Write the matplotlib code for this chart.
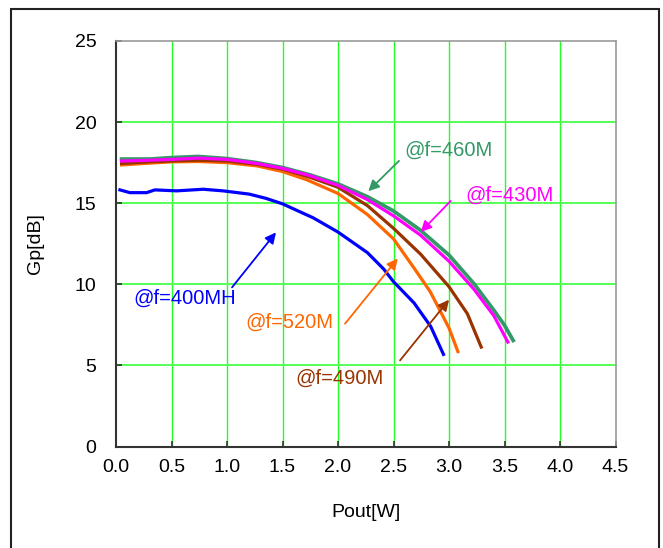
import matplotlib
matplotlib.use('Agg')
import matplotlib.pyplot as plt
from matplotlib.patches import Rectangle

plt.rcParams['font.family'] = ['Liberation Sans', 'DejaVu Sans']

# Gp vs Pout curves, one per frequency
pout_400 = [0.035, 0.125, 0.275, 0.35, 0.545, 0.785, 0.965, 1.2, 1.35, 1.5, 1.663, 1.776,
            2.0, 2.265, 2.41, 2.5, 2.685, 2.835, 2.95]
gp_400 = [15.82, 15.65, 15.65, 15.82, 15.76, 15.86, 15.76, 15.56, 15.3, 14.96, 14.45, 14.1,
          13.22, 11.95, 10.95, 10.16, 8.85, 7.4, 5.68]

pout_520 = [0.05, 0.305, 0.5, 0.74, 1.0, 1.27, 1.5, 1.716, 2.0, 2.265, 2.5, 2.69,
            2.83, 2.925, 3.0, 3.08]
gp_520 = [17.36, 17.47, 17.55, 17.57, 17.5, 17.3, 16.95, 16.45, 15.6, 14.3, 12.8, 10.95,
          9.55, 8.3, 7.3, 5.85]

pout_490 = [0.05, 0.3, 0.5, 0.74, 1.0, 1.27, 1.5, 1.746, 2.0, 2.265, 2.5, 2.745,
            3.0, 3.165, 3.29]
gp_490 = [17.45, 17.55, 17.6, 17.65, 17.6, 17.4, 17.1, 16.6, 15.98, 14.85, 13.45, 11.85,
          9.85, 8.19, 6.13]

pout_430 = [0.05, 0.3, 0.5, 0.74, 1.0, 1.27, 1.5, 1.746, 2.0, 2.265, 2.5, 2.745,
            3.0, 3.224, 3.404, 3.53]
gp_430 = [17.6, 17.65, 17.7, 17.78, 17.7, 17.45, 17.15, 16.7, 16.1, 15.22, 14.22, 13.02,
          11.42, 9.7, 8.06, 6.44]

pout_460 = [0.05, 0.305, 0.5, 0.74, 1.0, 1.27, 1.5, 1.746, 2.0, 2.265, 2.5, 2.745,
            3.0, 3.224, 3.404, 3.5, 3.578]
gp_460 = [17.72, 17.72, 17.81, 17.88, 17.75, 17.5, 17.2, 16.75, 16.19, 15.4, 14.52, 13.32,
          11.8, 10.04, 8.4, 7.47, 6.54]

xticks = [0.0, 0.5, 1.0, 1.5, 2.0, 2.5, 3.0, 3.5, 4.0, 4.5]
yticks = [0, 5, 10, 15, 20, 25]

fig = plt.figure(figsize=(6.63, 5.48), dpi=100)
ax = fig.add_axes([0.175, 0.1852, 0.7534, 0.740])

for x in xticks[1:-1]:
    ax.axvline(x, color='#22ff22', lw=1.0, zorder=1)
for y in yticks[1:-1]:
    ax.axhline(y, color='#55ff55', lw=1.4, zorder=1)

ax.plot(pout_400, gp_400, color='#0000ff', lw=2.3, zorder=3)
ax.plot(pout_520, gp_520, color='#ff6600', lw=2.3, zorder=3)
ax.plot(pout_490, gp_490, color='#993300', lw=2.3, zorder=3)
ax.plot(pout_430, gp_430, color='#ff00ff', lw=2.3, zorder=3)
ax.plot(pout_460, gp_460, color='#339966', lw=2.7, zorder=2.5)

def note(text, color, txy, start, end):
    ax.text(txy[0], txy[1], text, color=color, fontsize=14.5, va='center', ha='left')
    ax.annotate('', xy=end, xytext=start,
                arrowprops=dict(arrowstyle='-|>', color=color, lw=1.3,
                                mutation_scale=16, shrinkA=0, shrinkB=0))

note('@f=460M', '#339966', (2.595, 18.27), (2.549, 17.61), (2.273, 15.74))
note('@f=430M', '#ff00ff', (3.144, 15.49), (3.015, 15.14), (2.745, 13.23))
note('@f=400MH', '#0000ff', (0.153, 9.14), (1.045, 9.81), (1.441, 13.2))
note('@f=520M', '#ff6600', (1.162, 7.65), (2.063, 7.57), (2.538, 11.59))
note('@f=490M', '#993300', (1.613, 4.2), (2.559, 5.31), (3.0, 9.05))

ax.set_xlim(0, 4.5)
ax.set_ylim(0, 25)
ax.set_xticks(xticks)
ax.set_xticklabels(['%.1f' % v for v in xticks])
ax.set_yticks(yticks)
ax.tick_params(direction='in', length=4, width=1.2, color='#333333', labelsize=14)
ax.tick_params(axis='x', pad=9)
ax.tick_params(axis='y', pad=14)

for side in ['left', 'bottom']:
    ax.spines[side].set_color('#333333')
    ax.spines[side].set_linewidth(1.5)
for side in ['top', 'right']:
    ax.spines[side].set_color('#999999')
    ax.spines[side].set_linewidth(1.2)

ax.set_xlabel('Pout[W]', fontsize=14, labelpad=20)
ax.set_ylabel('Gp[dB]', fontsize=14, labelpad=22)

# outer frame around the chart
fig.add_artist(Rectangle((0.0165, -0.05), 0.978, 1.034, transform=fig.transFigure,
                         fill=False, edgecolor='#222222', lw=1.5))

fig.savefig('out.png', dpi=100)
